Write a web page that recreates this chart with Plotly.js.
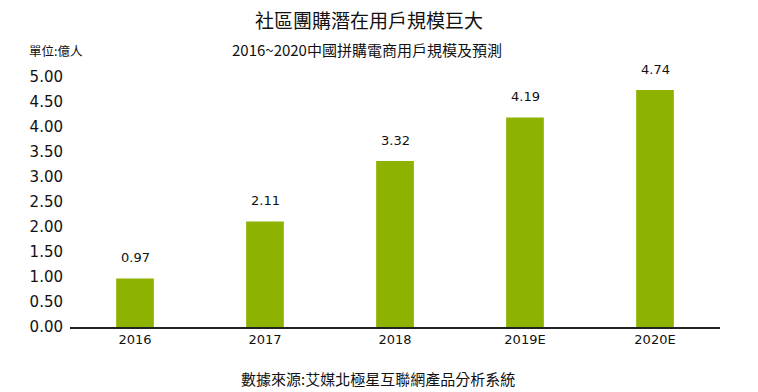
<!DOCTYPE html>
<html><head><meta charset="utf-8">
<script src="https://cdn.plot.ly/plotly-3.0.1.min.js"></script>
<style>body{margin:0;background:#fff}#c{width:758px;height:392px}</style>
</head><body><div id="c"></div>
<script>
var categories = ['2016','2017','2018','2019E','2020E'];
var users = [0.97, 2.11, 3.32, 4.19, 4.74];
var yTicks = [0,0.5,1,1.5,2,2.5,3,3.5,4,4.5,5];
var yTickText = yTicks.map(function(v){return v.toFixed(2);});

var f = '"Noto Sans CJK TC", "DejaVu Sans", sans-serif';
var valueLabels = categories.map(function(c,i){
  return {x:i, y:users[i], xref:'x', yref:'y', text:users[i].toFixed(2), showarrow:false,
    yanchor:'middle', yshift:21, font:{family:'"DejaVu Sans", sans-serif', size:13, color:'#111'}};
});
Plotly.newPlot('c', [{
  type:'bar', x:categories, y:users,
  marker:{color:'#8db200'},
  width:0.29, hoverinfo:'none'
}], {
  width:758, height:392,
  margin:{l:70, r:38, t:77, b:65},
  paper_bgcolor:'#fff', plot_bgcolor:'#fff',
  showlegend:false,
  xaxis:{type:'category', range:[-0.5,4.5], showgrid:false, showline:true, linecolor:'#222', linewidth:1.5,
    ticks:'', tickfont:{family:'"DejaVu Sans", sans-serif', size:13, color:'#111'}},
  yaxis:{range:[0,5], tickvals:yTicks, ticktext:yTickText, showgrid:false, zeroline:false,
    showline:false, ticks:'', ticklabelstandoff:6,
    tickfont:{family:'"DejaVu Sans", sans-serif', size:15, color:'#111'}},
  annotations:valueLabels.concat([
    {text:'社區團購潛在用戶規模巨大', xref:'paper', yref:'paper', x:0.5, y:0, xanchor:'center', yanchor:'middle',
     xshift:-26, yshift:308, showarrow:false, font:{family:f, size:19, color:'#111'}},
    {text:'2016~2020中國拼購電商用戶規模及預測', xref:'paper', yref:'paper', x:0.5, y:0, xanchor:'center', yanchor:'middle',
     xshift:-28, yshift:278, showarrow:false, font:{family:f, size:15, color:'#111'}},
    {text:'單位:億人', xref:'paper', yref:'paper', x:0, y:0, xanchor:'left', yanchor:'middle',
     xshift:-43, yshift:277, showarrow:false, font:{family:f, size:12.5, color:'#111'}},
    {text:'數據來源:艾媒北極星互聯網產品分析系統', xref:'paper', yref:'paper', x:0.5, y:0, xanchor:'center', yanchor:'middle',
     xshift:-17, yshift:-51, showarrow:false, font:{family:f, size:15, color:'#111'}}
  ])
}, {displayModeBar:false, staticPlot:true});
</script></body></html>
